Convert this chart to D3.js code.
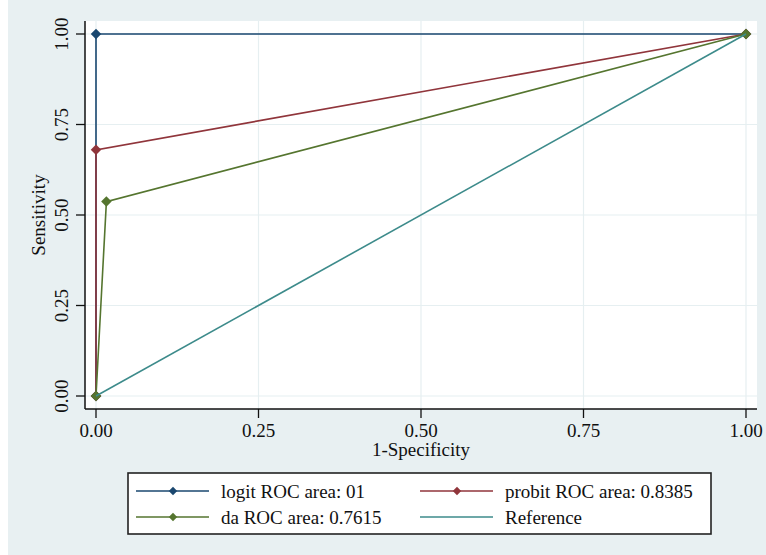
<!DOCTYPE html>
<html>
<head>
<meta charset="utf-8">
<script src="https://cdn.jsdelivr.net/npm/d3@7"></script>
<style>
  body { margin: 0; background: #fff; }
  svg { display: block; font-family: "Liberation Serif", "Times New Roman", serif; }
</style>
</head>
<body>
<svg id="chart" width="766" height="555"></svg>
<script>
// ROC curves
const logitX = [0, 0, 1];
const logitY = [0, 1, 1];
const probitX = [0, 0, 1];
const probitY = [0, 0.68, 1];
const daX = [0, 0.016, 1];
const daY = [0, 0.537, 1];
const refX = [0, 1];
const refY = [0, 1];

const tickVals = [0, 0.25, 0.5, 0.75, 1];
const legendLabels = ["logit ROC area: 01", "probit ROC area: 0.8385", "da ROC area: 0.7615", "Reference"];

const series = [
    { name: legendLabels[0], x: logitX, y: logitY, color: "#1a476f", marker: true },
    { name: legendLabels[1], x: probitX, y: probitY, color: "#90353b", marker: true },
    { name: legendLabels[2], x: daX, y: daY, color: "#55752f", marker: true },
    { name: legendLabels[3], x: refX, y: refY, color: "#3d8b8b", marker: false }
];

const svg = d3.select("#chart");

// graph region background
svg.append("rect").attr("x", 8).attr("y", 0).attr("width", 758).attr("height", 555).attr("fill", "#e8f0f2");

// plot region
const plot = { left: 85, right: 757, top: 21, bottom: 409 };
svg.append("rect")
    .attr("x", plot.left).attr("y", plot.top)
    .attr("width", plot.right - plot.left).attr("height", plot.bottom - plot.top)
    .attr("fill", "#fff");

let x = d3.scaleLinear().domain([0, 1]).range([96, 746]);
let y = d3.scaleLinear().domain([0, 1]).range([396, 34]);

// gridlines
svg.append("g").selectAll("line").data(tickVals).join("line")
    .attr("x1", plot.left).attr("x2", plot.right)
    .attr("y1", d => y(d)).attr("y2", d => y(d))
    .attr("stroke", "#e6eff1").attr("stroke-width", 1.2);
svg.append("g").selectAll("line").data(tickVals).join("line")
    .attr("y1", plot.top).attr("y2", plot.bottom)
    .attr("x1", d => x(d)).attr("x2", d => x(d))
    .attr("stroke", "#e6eff1").attr("stroke-width", 1.2);

// axes
svg.append("line").attr("x1", plot.left).attr("x2", plot.left).attr("y1", plot.top).attr("y2", plot.bottom)
    .attr("stroke", "#111").attr("stroke-width", 1.5);
svg.append("line").attr("x1", plot.left).attr("x2", plot.right).attr("y1", plot.bottom).attr("y2", plot.bottom)
    .attr("stroke", "#111").attr("stroke-width", 1.5);

const fmt = d3.format(".2f");

let yTicks = svg.append("g").selectAll("g").data(tickVals).join("g");
yTicks.append("line")
    .attr("x1", 76).attr("x2", plot.left)
    .attr("y1", d => y(d)).attr("y2", d => y(d))
    .attr("stroke", "#111").attr("stroke-width", 1.3);
yTicks.append("text")
    .attr("transform", d => "translate(68," + y(d) + ") rotate(-90)")
    .attr("text-anchor", "middle")
    .attr("font-size", 19)
    .attr("fill", "#111")
    .text(d => fmt(d));

let xTicks = svg.append("g").selectAll("g").data(tickVals).join("g");
xTicks.append("line")
    .attr("y1", plot.bottom).attr("y2", 418)
    .attr("x1", d => x(d)).attr("x2", d => x(d))
    .attr("stroke", "#111").attr("stroke-width", 1.3);
xTicks.append("text")
    .attr("x", d => x(d)).attr("y", 437)
    .attr("text-anchor", "middle")
    .attr("font-size", 19)
    .attr("fill", "#111")
    .text(d => fmt(d));

// axis titles
svg.append("text")
    .attr("transform", "translate(45," + y(0.5) + ") rotate(-90)")
    .attr("text-anchor", "middle").attr("font-size", 19).attr("fill", "#111")
    .text("Sensitivity");
svg.append("text")
    .attr("x", x(0.5)).attr("y", 456)
    .attr("text-anchor", "middle").attr("font-size", 19).attr("fill", "#111")
    .text("1-Specificity");

// curves
const line = d3.line().x(d => x(d[0])).y(d => y(d[1]));
const diamond = d3.symbol().type(d3.symbolDiamond2);

series.forEach(s => {
    let pts = s.x.map((v, i) => [v, s.y[i]]);
    svg.append("path")
        .attr("d", line(pts))
        .attr("fill", "none")
        .attr("stroke", s.color)
        .attr("stroke-width", 1.6);
    if (s.marker) {
        svg.append("g").selectAll("path").data(pts).join("path")
            .attr("transform", d => "translate(" + x(d[0]) + "," + y(d[1]) + ")")
            .attr("d", diamond.size(70))
            .attr("fill", s.color);
    }
});

// legend
const legend = svg.append("g");
legend.append("rect")
    .attr("x", 128).attr("y", 473).attr("width", 583).attr("height", 61)
    .attr("fill", "#fff").attr("stroke", "#222").attr("stroke-width", 1.6);

const colX = [136, 420];
const rowY = [491, 517];

series.forEach((s, i) => {
    let cx = colX[i % 2];
    let cy = rowY[Math.floor(i / 2)];
    let item = legend.append("g");
    item.append("line")
        .attr("x1", cx).attr("x2", cx + 73)
        .attr("y1", cy).attr("y2", cy)
        .attr("stroke", s.color).attr("stroke-width", 1.6);
    if (s.marker) {
        item.append("path")
            .attr("transform", "translate(" + (cx + 37) + "," + cy + ")")
            .attr("d", diamond.size(45))
            .attr("fill", s.color);
    }
    item.append("text")
        .attr("x", cx + 85).attr("y", cy + 6.5)
        .attr("font-size", 19).attr("fill", "#111")
        .text(s.name);
});
</script>
</body>
</html>
